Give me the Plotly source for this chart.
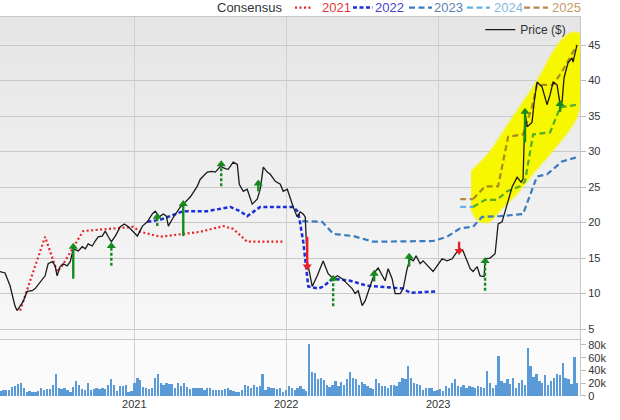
import base64
import math
import pandas as pd
import plotly.graph_objects as go
from plotly.subplots import make_subplots

# ---------------- data (dates as decimal years) ----------------
price_t = [2020.118, 2020.151, 2020.184, 2020.217, 2020.230, 2020.250, 2020.270, 2020.296, 2020.329, 2020.349,
           2020.382, 2020.414, 2020.434, 2020.461, 2020.480, 2020.493, 2020.513, 2020.533, 2020.559, 2020.579,
           2020.599, 2020.632, 2020.658, 2020.678, 2020.697, 2020.724, 2020.743, 2020.763, 2020.789, 2020.809,
           2020.829, 2020.849, 2020.875, 2020.908, 2020.934, 2020.961, 2020.993, 2021.020, 2021.053, 2021.086,
           2021.118, 2021.138, 2021.164, 2021.191, 2021.211, 2021.224, 2021.250, 2021.270, 2021.303, 2021.322,
           2021.368, 2021.414, 2021.434, 2021.480, 2021.513, 2021.533, 2021.566, 2021.599, 2021.618, 2021.651,
           2021.678, 2021.691, 2021.717, 2021.743, 2021.776, 2021.809, 2021.829, 2021.849, 2021.875, 2021.895,
           2021.928, 2021.961, 2021.980, 2022.007, 2022.026, 2022.046, 2022.072, 2022.092, 2022.112, 2022.125,
           2022.138, 2022.171, 2022.204, 2022.243, 2022.276, 2022.309, 2022.336, 2022.368, 2022.401, 2022.434,
           2022.454, 2022.474, 2022.500, 2022.520, 2022.553, 2022.586, 2022.605, 2022.632, 2022.651, 2022.671,
           2022.697, 2022.717, 2022.750, 2022.770, 2022.796, 2022.816, 2022.836, 2022.855, 2022.882, 2022.901,
           2022.934, 2022.967, 2022.993, 2023.026, 2023.059, 2023.092, 2023.125, 2023.145, 2023.164, 2023.191,
           2023.211, 2023.230, 2023.257, 2023.276, 2023.303, 2023.309, 2023.342, 2023.375, 2023.395, 2023.421,
           2023.454, 2023.487, 2023.520, 2023.546, 2023.559, 2023.572, 2023.586, 2023.618, 2023.632, 2023.651,
           2023.684, 2023.717, 2023.737, 2023.757, 2023.783, 2023.803, 2023.816, 2023.829, 2023.855, 2023.882,
           2023.888, 2023.914]
price_v = [13.1, 12.9, 11.1, 8.2, 7.6, 8.3, 8.9, 10.3, 10.4, 10.7,
           11.7, 12.5, 14.2, 14.5, 13.9, 12.5, 13.8, 14.2, 13.9, 14.5,
           16.3, 16.0, 16.6, 16.3, 17.0, 16.7, 17.4, 18.0, 18.1, 18.8,
           18.0, 17.3, 18.1, 19.4, 19.8, 19.4, 18.7, 18.1, 19.5, 20.1,
           21.2, 21.6, 20.8, 21.2, 20.9, 19.5, 20.5, 21.2, 22.2, 22.6,
           23.6, 25.1, 26.1, 27.1, 27.2, 27.1, 27.9, 27.6, 27.5, 28.5,
           28.2, 25.4, 24.4, 24.7, 22.6, 23.3, 24.7, 27.8, 27.1, 26.8,
           25.8, 25.4, 24.4, 24.7, 23.3, 22.2, 20.8, 21.5, 21.2, 20.8,
           14.6, 11.0, 12.5, 14.6, 12.8, 12.1, 12.5, 12.1, 11.4, 10.7,
           10.0, 10.4, 8.3, 9.0, 11.1, 13.1, 13.6, 12.5, 11.8, 13.5,
           12.1, 10.0, 10.0, 10.7, 13.5, 14.9, 14.6, 15.3, 14.2, 14.6,
           13.9, 13.1, 13.9, 14.9, 14.6, 14.9, 15.9, 16.3, 16.0, 14.5,
           13.5, 13.1, 13.8, 12.5, 12.4, 14.9, 15.0, 15.6, 19.8, 20.1,
           22.6, 25.0, 26.4, 25.7, 26.1, 35.5, 33.5, 34.1, 36.9, 39.8,
           39.1, 36.6, 38.0, 39.8, 39.4, 36.6, 37.0, 40.4, 42.5, 43.2,
           42.6, 45.0]

c2021_t = [2020.250, 2020.414, 2020.493, 2020.526, 2020.664, 2020.993, 2021.039, 2021.171, 2021.434,
           2021.586, 2021.651, 2021.743, 2021.980]
c2021_v = [7.6, 18.0, 13.1, 13.9, 18.8, 19.4, 18.7, 18.0, 18.7, 19.5, 19.1, 17.3, 17.3]

c2022_t = [2021.086, 2021.171, 2021.322, 2021.480, 2021.632, 2021.697, 2021.743, 2021.783, 2021.829,
           2022.046, 2022.079, 2022.112, 2022.145, 2022.211, 2022.243, 2022.309, 2022.421, 2022.533,
           2022.770, 2022.816, 2022.980]
c2022_v = [20.1, 20.4, 21.6, 21.6, 22.2, 21.6, 20.9, 21.5, 22.2, 22.2, 21.5, 17.3, 11.0, 10.7, 11.0,
           12.1, 11.8, 11.1, 10.7, 10.1, 10.3]

c2023_t = [2022.105, 2022.237, 2022.309, 2022.441, 2022.572, 2022.967, 2023.059, 2023.145, 2023.230,
           2023.289, 2023.408, 2023.559, 2023.651, 2023.717, 2023.816, 2023.914]
c2023_v = [20.2, 20.1, 18.4, 18.1, 17.3, 17.4, 18.0, 19.2, 19.4, 20.8, 20.9, 21.2, 26.5, 26.8, 28.6, 29.2]

c2024_t = [2023.145, 2023.230, 2023.309, 2023.388, 2023.454, 2023.539, 2023.572, 2023.625, 2023.737,
           2023.803, 2023.914]
c2024_v = [22.2, 22.2, 23.2, 23.2, 24.4, 25.1, 25.8, 32.4, 32.7, 36.2, 36.6]

c2025_t = [2023.145, 2023.230, 2023.309, 2023.395, 2023.461, 2023.559, 2023.618, 2023.651, 2023.757,
           2023.822, 2023.914]
c2025_v = [23.3, 23.3, 25.1, 25.1, 32.1, 32.4, 36.3, 39.4, 39.4, 41.5, 45.0]

# highlighted zone (yellow) outline
zone_t = [2023.217, 2023.342, 2023.454, 2023.586, 2023.671, 2023.757, 2023.836, 2023.882, 2023.934,
          2023.941, 2023.934, 2023.914, 2023.868, 2023.737, 2023.625, 2023.520, 2023.408, 2023.329,
          2023.263, 2023.217]
zone_v = [27.1, 29.9, 33.5, 37.7, 40.5, 43.9, 46.1, 46.7, 46.4, 40.1, 37.3, 35.1, 33.3, 29.8, 27.0,
          24.2, 21.8, 20.1, 20.4, 22.0]

# revision arrows: date, tail value, head value, style
arrow_t = [2020.599, 2020.849, 2021.151, 2021.322, 2021.572, 2021.816, 2022.138, 2022.309, 2022.579,
           2022.809, 2023.138, 2023.309, 2023.572, 2023.803]
arrow_from = [12.1, 13.9, 19.5, 18.1, 25.1, 24.4, 18.0, 8.2, 11.7, 13.8, 17.3, 10.4, 31.3, 35.6]
arrow_to = [16.6, 16.7, 20.8, 22.6, 28.2, 25.5, 13.8, 12.1, 12.8, 15.2, 16.0, 14.6, 35.6, 36.7]
arrow_dashed = [False, True, True, False, True, False, False, True, False, False, False, True, False, False]

# weekly volume (thousands)
volume_k = [8, 9, 9, 10, 14, 16, 19, 20, 13, 7,
            8, 7, 6, 8, 12, 10, 11, 11, 17, 35,
            12, 11, 12, 9, 6, 14, 24, 18, 11, 10,
            20, 9, 11, 12, 11, 12, 11, 18, 26, 17,
            8, 15, 16, 17, 7, 8, 21, 28, 25, 14,
            12, 11, 13, 29, 35, 20, 17, 21, 19, 19,
            13, 20, 15, 21, 14, 11, 12, 13, 12, 13,
            10, 12, 13, 10, 9, 10, 10, 11, 12, 10,
            8, 7, 6, 10, 17, 15, 12, 17, 14, 15,
            35, 9, 14, 12, 12, 11, 12, 7, 9, 16,
            13, 9, 12, 15, 11, 8, 82, 37, 36, 27,
            28, 25, 17, 14, 18, 24, 16, 22, 17, 27,
            38, 28, 27, 18, 22, 19, 16, 13, 11, 27,
            20, 15, 15, 12, 17, 17, 16, 22, 28, 27,
            47, 29, 20, 19, 18, 10, 12, 13, 12, 8,
            10, 11, 8, 16, 12, 21, 27, 15, 14, 18,
            13, 15, 14, 12, 15, 14, 13, 40, 20, 13,
            18, 62, 24, 20, 27, 19, 29, 12, 20, 25,
            18, 76, 47, 30, 35, 23, 20, 33, 17, 23,
            29, 35, 33, 52, 29, 27, 19, 61, 21]
volume_start = 2020.121

price_ticks = [5, 10, 15, 20, 25, 30, 35, 40, 45]
volume_ticks = [0, 20000, 40000, 60000, 80000]
volume_ticktext = ["0", "20k", "40k", "60k", "80k"]
legend_years = ["2021", "2022", "2023", "2024", "2025"]


def yr(t):
    y = int(math.floor(t))
    a = pd.Timestamp(year=y, month=1, day=1)
    b = pd.Timestamp(year=y + 1, month=1, day=1)
    return a + (t - y) * (b - a)


def dates(ts):
    return [yr(t) for t in ts]


FONT = "Liberation Sans, Arial, sans-serif"
GREEN = "#178a1d"
RED = "#e8202a"

fig = make_subplots(rows=2, cols=1, shared_xaxes=True, vertical_spacing=0,
                    row_heights=[0.8496, 0.1504])

# yellow zone
fig.add_trace(go.Scatter(x=dates(zone_t), y=zone_v, mode="lines", fill="toself",
                         fillcolor="#f7f700", line=dict(color="rgba(247,247,0,0.6)", width=3, shape="spline"),
                         hoverinfo="skip", showlegend=False), row=1, col=1)

# consensus lines
fig.add_trace(go.Scatter(x=dates(c2021_t), y=c2021_v, mode="lines", name="2021",
                         line=dict(color="#e8242a", width=2.2, dash="2px,2.5px"), showlegend=False), row=1, col=1)
fig.add_trace(go.Scatter(x=dates(c2022_t), y=c2022_v, mode="lines", name="2022",
                         line=dict(color="#1c2ed8", width=2.5, dash="4px,2.5px"), showlegend=False), row=1, col=1)
fig.add_trace(go.Scatter(x=dates(c2023_t), y=c2023_v, mode="lines", name="2023",
                         line=dict(color="#3a7cc0", width=2.2, dash="6px,3.5px"), showlegend=False), row=1, col=1)
fig.add_trace(go.Scatter(x=dates(c2024_t[:2]), y=c2024_v[:2], mode="lines", name="2024",
                         line=dict(color="#62b4e6", width=2.2, dash="6px,3.5px"), showlegend=False), row=1, col=1)
fig.add_trace(go.Scatter(x=dates(c2024_t[1:]), y=c2024_v[1:], mode="lines", name="2024",
                         line=dict(color="#55ad2c", width=2.2, dash="6px,3.5px"), showlegend=False), row=1, col=1)
fig.add_trace(go.Scatter(x=dates(c2025_t[:2]), y=c2025_v[:2], mode="lines", name="2025",
                         line=dict(color="#b8864a", width=2.2, dash="6px,3.5px"), showlegend=False), row=1, col=1)
fig.add_trace(go.Scatter(x=dates(c2025_t[1:]), y=c2025_v[1:], mode="lines", name="2025",
                         line=dict(color="#ad891e", width=2.2, dash="6px,3.5px"), showlegend=False), row=1, col=1)

# price
fig.add_trace(go.Scatter(x=dates(price_t), y=price_v, mode="lines", name="Price ($)",
                         line=dict(color="#1a1a1a", width=1.3), showlegend=True), row=1, col=1)

# arrows
for dashed in (False, True):
    for up in (True, False):
        xs, ys, hx, hy = [], [], [], []
        for t, a, b, d in zip(arrow_t, arrow_from, arrow_to, arrow_dashed):
            if d != dashed or (b > a) != up:
                continue
            xs += [yr(t), yr(t), None]
            ys += [a, b, None]
            hx.append(yr(t))
            hy.append(b)
        if not hx:
            continue
        col = GREEN if up else RED
        fig.add_trace(go.Scatter(x=xs, y=ys, mode="lines", showlegend=False, hoverinfo="skip",
                                 line=dict(color=col, width=2.4, dash="3px,2px" if dashed else "solid")),
                      row=1, col=1)
        fig.add_trace(go.Scatter(x=hx, y=hy, mode="markers", showlegend=False, hoverinfo="skip",
                                 marker=dict(symbol="triangle-up" if up else "triangle-down", size=8,
                                             color=col, line=dict(width=0))),
                      row=1, col=1)

# volume
vol_dates = pd.date_range(yr(volume_start), periods=len(volume_k), freq="7D")
fig.add_trace(go.Bar(x=vol_dates, y=[v * 1000 for v in volume_k],
                     marker=dict(color="#5a9ad6", line=dict(width=0)),
                     width=5.6 * 86400000, showlegend=False), row=2, col=1)

# background gradient for price panel
svg = ('<svg xmlns="http://www.w3.org/2000/svg" width="100" height="100" viewBox="0 0 100 100" '
       'preserveAspectRatio="none"><defs><linearGradient id="g" x1="0" y1="0" x2="0" y2="1">'
       '<stop offset="0" stop-color="#e5e5e5"/><stop offset="1" stop-color="#f8f8f8"/></linearGradient></defs>'
       '<rect width="100" height="100" fill="url(#g)"/></svg>')
src = "data:image/svg+xml;base64," + base64.b64encode(svg.encode()).decode()

fig.update_layout(
    width=620, height=420,
    margin=dict(l=0, r=40, t=17, b=24),
    paper_bgcolor="white", plot_bgcolor="#fbfbfb",
    font=dict(family=FONT, size=11, color="#333"),
    bargap=0,
    images=[dict(source=src, xref="paper", yref="paper", x=0, y=1, sizex=1, sizey=0.8496,
                 xanchor="left", yanchor="top", sizing="stretch", layer="below")],
    legend=dict(x=0.985, xanchor="right", y=1.005, yanchor="top", bgcolor="rgba(0,0,0,0)",
                font=dict(size=12, color="#333", family=FONT), itemwidth=30),
)

xr = [yr(2020.118), yr(2023.934)]
fig.update_xaxes(range=xr, showgrid=True, gridcolor="#d0d0d0", gridwidth=1, dtick="M12",
                 tick0="2021-01-01", tickformat="%Y", ticks="", zeroline=False)
fig.update_xaxes(showticklabels=False, showline=True, linecolor="#c8c8c8", mirror=True, row=1, col=1)
fig.update_xaxes(showticklabels=True, showline=False, tickfont=dict(size=11, color="#333"), row=2, col=1)

fig.update_yaxes(side="right", range=[3.6, 48.95], tickvals=price_ticks, showgrid=True,
                 gridcolor="#c8c8c8", ticks="outside", ticklen=5, tickcolor="#bbbbbb",
                 showline=True, linecolor="#c8c8c8", zeroline=False, tickfont=dict(size=11, color="#333"),
                 row=1, col=1)
fig.update_yaxes(side="right", range=[0, 89400], tickvals=volume_ticks, ticktext=volume_ticktext,
                 showgrid=False, ticks="outside", ticklen=5, tickcolor="#bbbbbb", showline=True,
                 linecolor="#c8c8c8", zeroline=False, tickfont=dict(size=11, color="#333"), row=2, col=1)

# consensus legend across the top
PW = 580.0
leg_y = 1.025
fig.add_annotation(text="Consensus", xref="paper", yref="paper", x=285 / PW, y=leg_y, xanchor="right",
                   yanchor="middle", showarrow=False, font=dict(size=13, color="#333", family=FONT))
leg_items = [
    (legend_years[0], "#e8242a", "#e03a3a", "2px,2.5px", 2.2, 295, 313, 320),
    (legend_years[1], "#1c2ed8", "#4444d0", "4px,2.5px", 2.5, 353, 373, 373),
    (legend_years[2], "#3a7cc0", "#5b80b0", "6px,3.5px", 2.2, 409, 432, 432),
    (legend_years[3], "#62b4e6", "#86b8dc", "6px,3.5px", 2.2, 467, 490, 492),
    (legend_years[4], "#b8864a", "#c39a6c", "6px,3.5px", 2.2, 524, 548, 550),
]
for name, lc, tc, dash, w, x0, x1, tx in leg_items:
    fig.add_shape(type="line", xref="paper", yref="paper", x0=x0 / PW, x1=x1 / PW, y0=leg_y, y1=leg_y,
                  line=dict(color=lc, width=w, dash=dash))
    fig.add_annotation(text=name, xref="paper", yref="paper", x=tx / PW, y=leg_y, xanchor="left",
                       yanchor="middle", showarrow=False, font=dict(size=13, color=tc, family=FONT))

fig.write_html("out.html", config={"displayModeBar": False},
               post_script="document.body.style.margin='0';document.body.style.overflow='hidden';")
